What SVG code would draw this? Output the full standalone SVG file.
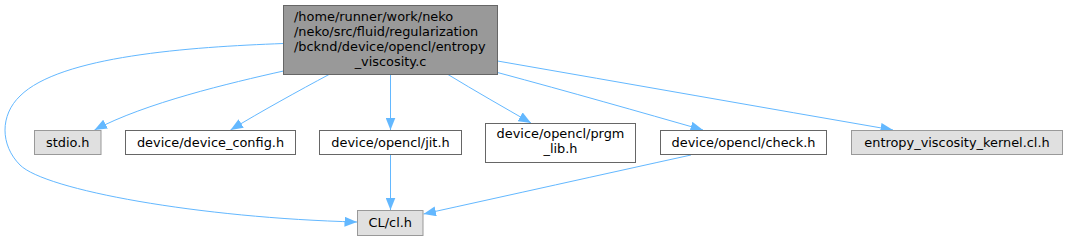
<svg xmlns="http://www.w3.org/2000/svg" width="1068" height="241" viewBox="0 0 1068 241">
<defs>
<style>
text{font-family:"DejaVu Sans","Liberation Sans",sans-serif;font-size:12.9px;fill:#000}
.c{text-anchor:middle}
.n rect{stroke-width:1}
.main{fill:#999999;stroke:#666666}
.gray{fill:#e0e0e0;stroke:#999999}
.white{fill:#ffffff;stroke:#666666}
.e{fill:none;stroke:#63b8ff;stroke-width:1;marker-end:url(#ah)}
</style>
<marker id="ah" markerUnits="userSpaceOnUse" viewBox="0 0 12.5 10" refX="12.5" refY="5" markerWidth="12.5" markerHeight="10" orient="auto">
<path d="M0,0 L12.5,5 L0,10 z" fill="#63b8ff"/>
</marker>
</defs>
<g id="edges">
<path class="e" d="M283.5,71 C230,83 145,103 94.5,130"/>
<path class="e" d="M329,74.5 C300,90 260,112 230.5,130"/>
<path class="e" d="M390.5,74.5 V130"/>
<path class="e" d="M448,74.5 C475,91 505,108 531,123"/>
<path class="e" d="M497.5,72.5 C570,92 640,112 703,130"/>
<path class="e" d="M497.5,61 C630,84 760,107 893,130"/>
<path class="e" d="M283.5,43.5 C190,47 60,56 20,96 C0,115 0,145 20,165 C45,190 200,218 357,222"/>
<path class="e" d="M390.5,155 V210"/>
<path class="e" d="M691,155 C600,175 510,195 423.5,214"/>
</g>
<g id="node_main" class="n">
<rect class="main" x="283.5" y="5.5" width="214" height="69"/>
<text x="294" y="20.7">/home/runner/work/neko</text>
<text x="294" y="35.8">/neko/src/fluid/regularization</text>
<text x="294" y="50.9">/bcknd/device/opencl/entropy</text>
<text class="c" x="390.5" y="65.5">_viscosity.c</text>
</g>
<g id="node_stdio" class="n">
<rect class="gray" x="34.5" y="130.5" width="66.5" height="24"/>
<text class="c" x="67.75" y="146.5">stdio.h</text>
</g>
<g id="node_device_config" class="n">
<rect class="white" x="125.5" y="130.5" width="170" height="24"/>
<text class="c" x="210.5" y="146.5">device/device_config.h</text>
</g>
<g id="node_jit" class="n">
<rect class="white" x="319.5" y="130.5" width="142" height="24"/>
<text class="c" x="390.5" y="146.5">device/opencl/jit.h</text>
</g>
<g id="node_prgm_lib" class="n">
<rect class="white" x="485.5" y="123.5" width="150" height="39"/>
<text class="c" x="560.5" y="137.8">device/opencl/prgm</text>
<text class="c" x="560.5" y="152.6">_lib.h</text>
</g>
<g id="node_check" class="n">
<rect class="white" x="660.5" y="130.5" width="166" height="24"/>
<text class="c" x="743.5" y="146.5">device/opencl/check.h</text>
</g>
<g id="node_kernel" class="n">
<rect class="gray" x="851.5" y="130.5" width="211" height="24"/>
<text class="c" x="957" y="146.5">entropy_viscosity_kernel.cl.h</text>
</g>
<g id="node_cl" class="n">
<rect class="gray" x="357.5" y="210.5" width="65.5" height="25"/>
<text class="c" x="390.25" y="227">CL/cl.h</text>
</g>
</svg>
